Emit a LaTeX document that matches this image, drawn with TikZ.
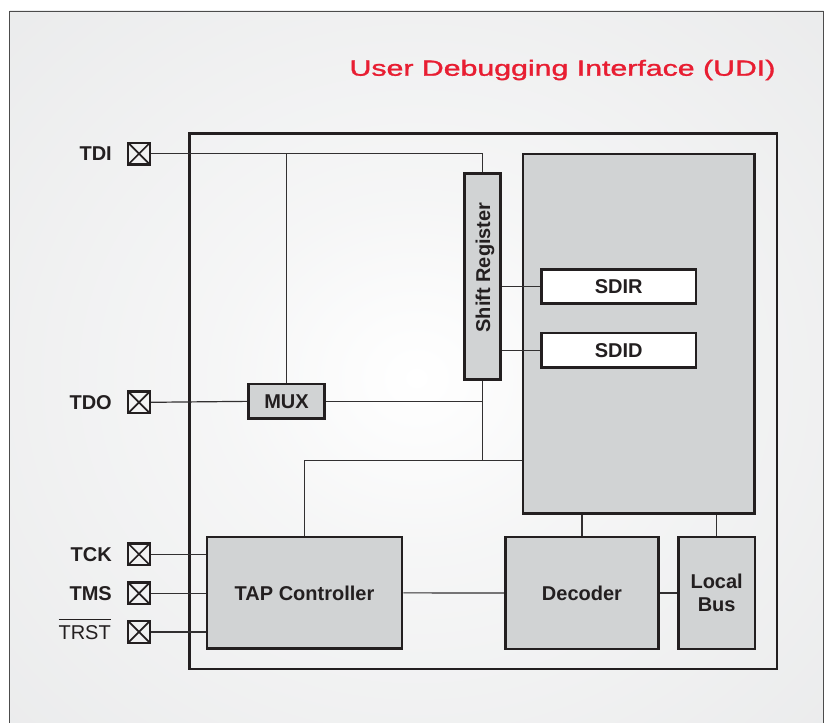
\documentclass[tikz,border=0pt]{standalone}
\usepackage{fontspec}
\setmainfont{Liberation Sans}
\newfontfamily\titlefont[FakeBold=1.2]{Liberation Sans}
\usepackage{graphicx}
\usetikzlibrary{calc}
\definecolor{pgray}{RGB}{228,229,230}
\definecolor{boxgray}{RGB}{209,211,212}
\definecolor{ink}{RGB}{35,31,32}
\definecolor{wirec}{RGB}{50,48,49}
\definecolor{udired}{RGB}{232,30,50}
\pgfdeclareradialshading{panelbg}{\pgfpoint{0bp}{0bp}}{color(0bp)=(white); color(12bp)=(white!65!pgray); color(50bp)=(pgray)}
\newcommand\ovlbox[1]{\setbox0\hbox{#1}\rlap{\raisebox{\dimexpr\ht0+5pt\relax}{\rule{\wd0}{0.9pt}}}\box0}
\begin{document}
\begin{tikzpicture}[x=1pt,y=-1pt,
  blk/.style={draw=ink, line width=2.6pt, fill=boxgray, inner sep=0pt, text=ink,
    font=\fontsize{20}{23.4}\selectfont\bfseries},
  wbox/.style={blk, fill=white},
  pinbox/.style={draw=ink, line width=2.4pt, minimum size=21.6pt, inner sep=0pt,
    path picture={\draw[ink, line width=1.7pt]
      (path picture bounding box.south west) -- (path picture bounding box.north east)
      (path picture bounding box.north west) -- (path picture bounding box.south east);}},
  pinlbl/.style={anchor=base east, inner sep=0pt, text=ink, font=\fontsize{20}{24}\selectfont\bfseries},
  wire/.style={draw=wirec, line width=1.2pt}]
\useasboundingbox (0,0) rectangle (826,722);
\begin{scope}
  \clip (0,0) rectangle (826,722);
  \shade[shading=panelbg] (9.5,11) rectangle (823.5,745);
  \draw[draw=black!70, line width=0.9pt] (9.5,745) -- (9.5,11) -- (823.5,11) -- (823.5,745);
\end{scope}

% title
\node[anchor=base, inner sep=0pt, text=udired, font=\fontsize{21.9}{26}\titlefont] (title) at (562.5,75.7)
  {\scalebox{1.383}[1]{User Debugging Interface (UDI)}};

% inner frame
\draw[draw=ink, line width=2.4pt] (189.5,133.7) rectangle (776.8,669.2);

% pins
\node[pinbox] (tdi) at (139,153.7) {};
\node[pinbox] (tdo) at (139,402.3) {};
\node[pinbox] (tck) at (139,554.2) {};
\node[pinbox] (tms) at (139,593.3) {};
\node[pinbox] (trst) at (139,631.9) {};
\node[pinlbl] (tdil) at (112,160.9) {TDI};
\node[pinlbl] (tdol) at (112,409.5) {TDO};
\node[pinlbl] (tckl) at (112,561.4) {TCK};
\node[pinlbl] (tmsl) at (112,600.5) {TMS};
\node[pinlbl, font=\fontsize{20}{24}\selectfont] (trstl) at (111,639.1) {\ovlbox{TRST}};

% blocks
\node[blk, minimum width=231.7pt, minimum height=359.7pt] (core) at (638.85,333.85) {};
\node[blk, minimum width=35.8pt, minimum height=205.8pt] (sr) at (482.5,276.5) {};
\node[rotate=90, anchor=base, inner sep=0pt, text=ink, font=\fontsize{20}{24}\selectfont\bfseries] (srl) at (490,267.5) {Shift Register};
\node[wbox, minimum width=154.7pt, minimum height=34.1pt] (sdir) at (618.65,286.65) {SDIR};
\node[wbox, minimum width=154.7pt, minimum height=34.7pt] (sdid) at (618.65,350.35) {SDID};
\node[blk, minimum width=76.4pt, minimum height=34.7pt] (mux) at (286.5,401.35) {MUX};
\node[blk, minimum width=195pt, minimum height=111.7pt] (tap) at (304.5,592.85) {TAP Controller};
\node[blk, minimum width=153.4pt, minimum height=112pt] (dec) at (582,593) {Decoder};
\node[blk, minimum width=76.7pt, minimum height=112pt, align=center] (lbus) at (716.65,593) {Local\\Bus};

% wires
\draw[wire] (tdi.east) -- (sr.north |- tdi.east) -- (sr.north);
\draw[wire] (mux.north) -- (mux.north |- tdi.east);
\draw[wire] (tdo.east) -- (mux.west);
\draw[wire] (mux.east) -- (sr.south |- mux.east);
\path (sr.south) ++(0,79.6) coordinate (jn);
\draw[wire] (sr.south) -- (jn) -- (core.west |- jn);
\draw[wire] (tap.north) |- (jn);
\draw[wire] (sr.east |- sdir.west) -- (sdir.west);
\draw[wire] (sr.east |- sdid.west) -- (sdid.west);
\draw[wire] (tap.east) -- (dec.west);
\draw[wire] (dec.east) -- (lbus.west);
\draw[wire] (dec.north) -- (dec.north |- core.south);
\draw[wire] (lbus.north) -- (lbus.north |- core.south);
\draw[wire] (tck.east) -- (tap.west |- tck.east);
\draw[wire] (tms.east) -- (tap.west |- tms.east);
\draw[wire] (trst.east) -- (tap.west |- trst.east);
\end{tikzpicture}
\end{document}
